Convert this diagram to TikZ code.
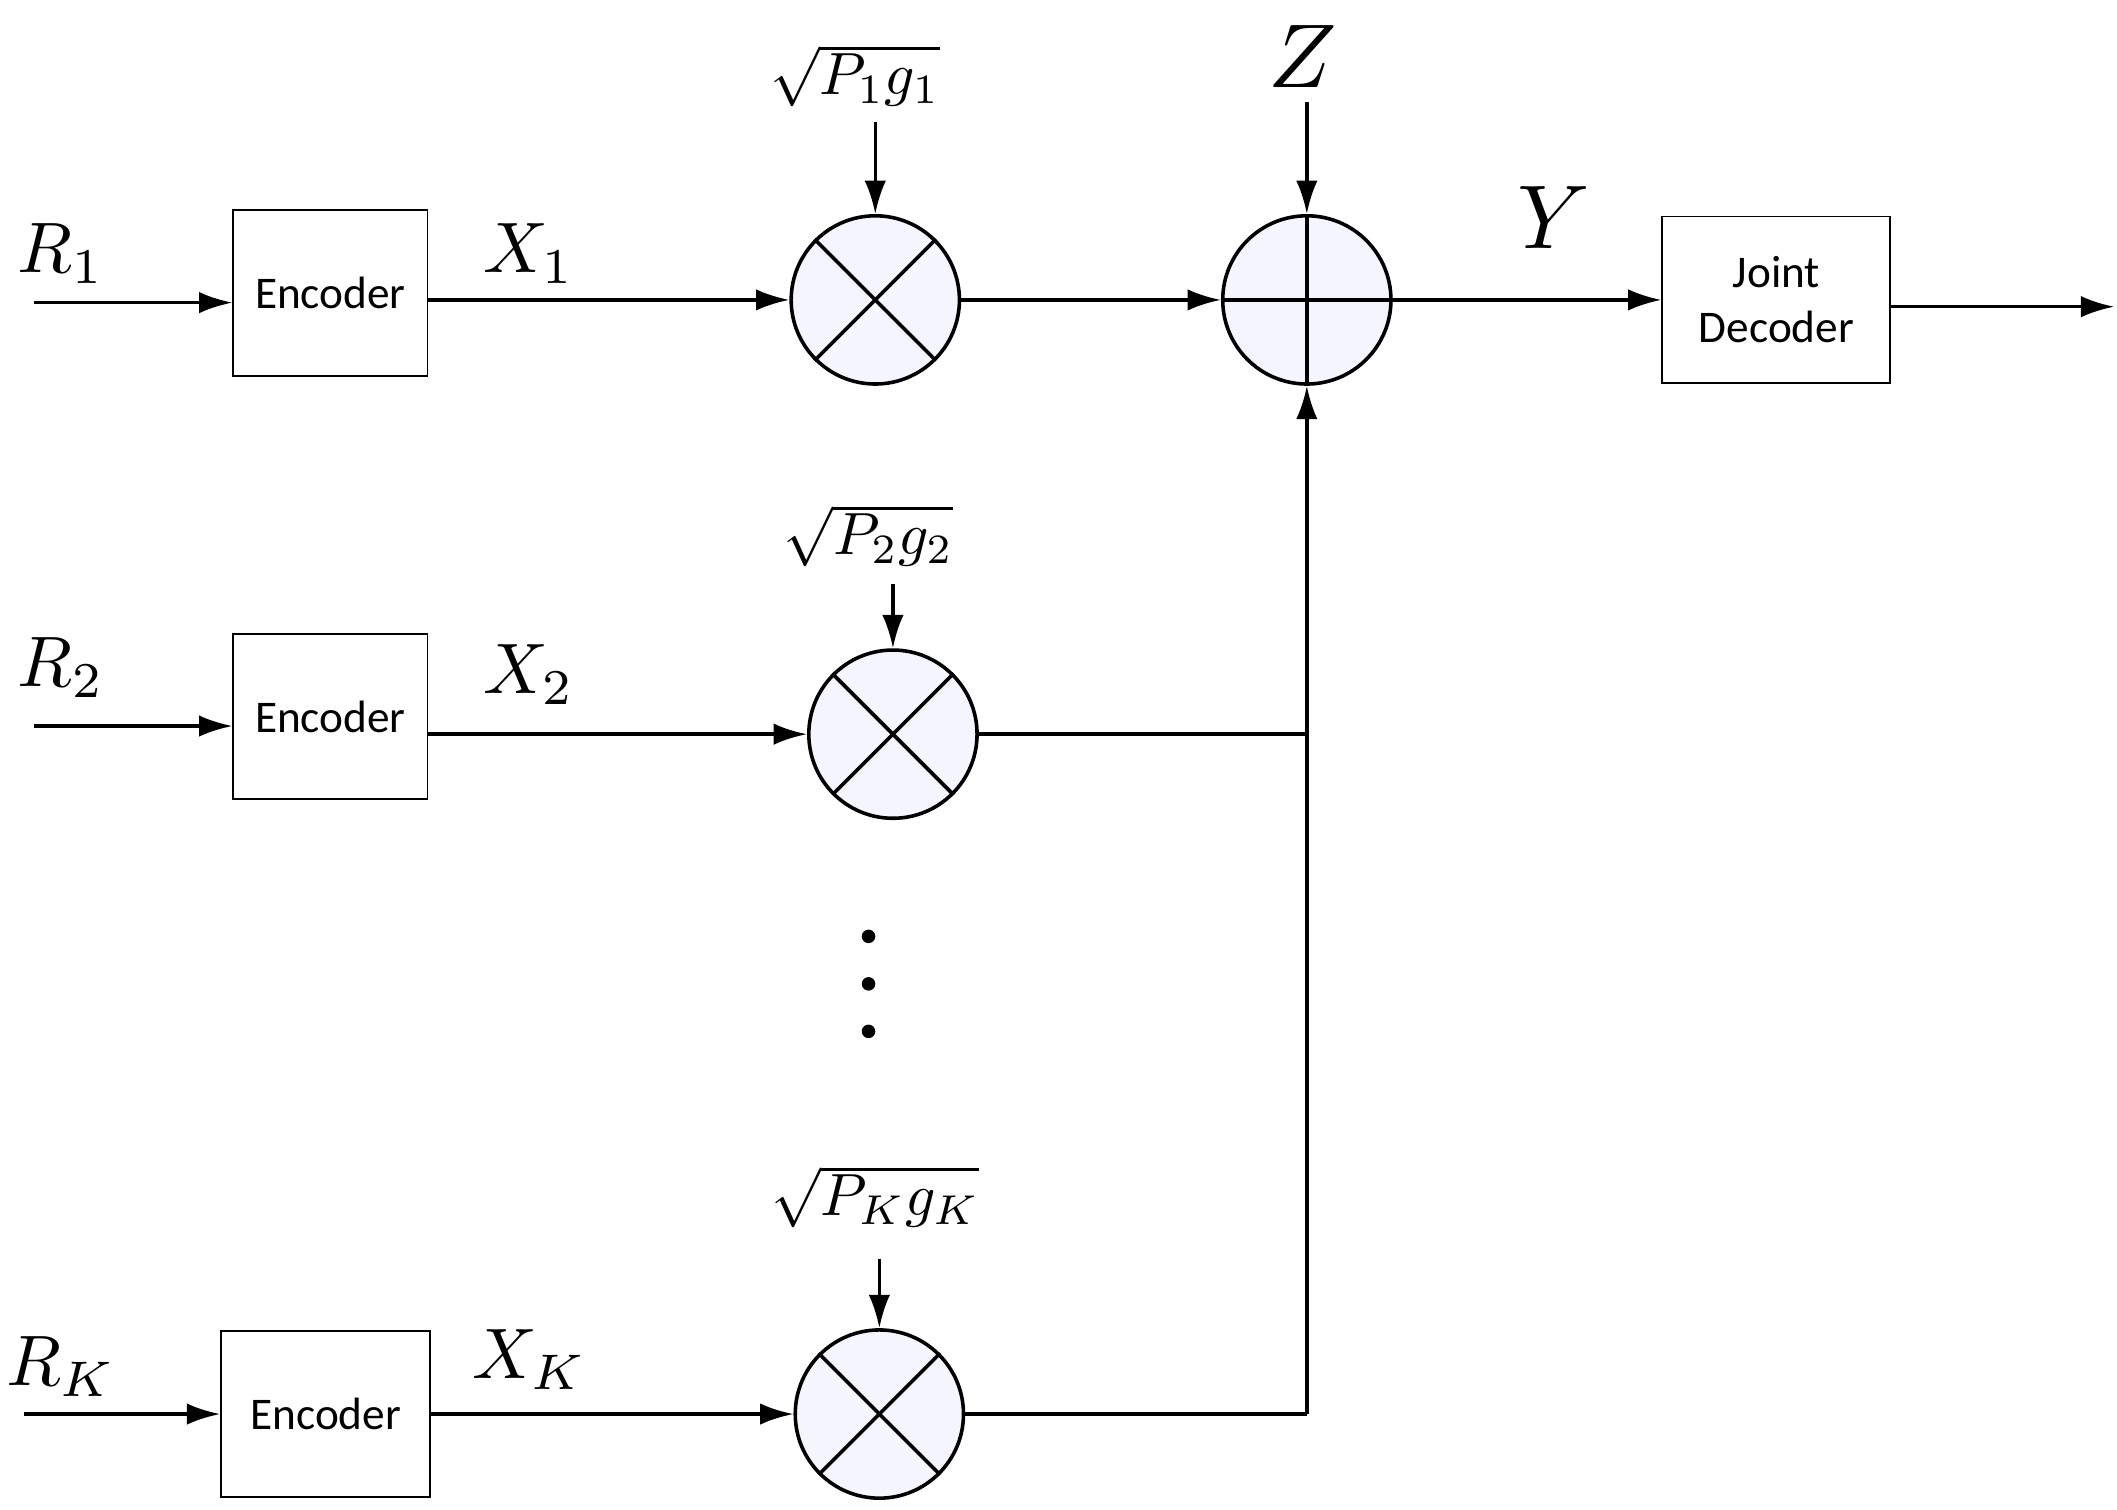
\documentclass[tikz,border=0pt]{standalone}
\usepackage{graphicx}
\usepackage{fontspec}
\setmainfont{Carlito}
\usetikzlibrary{arrows.meta}
\newcommand{\vr}[2]{\scalebox{3}{\normalsize$#1_{#2}$}}
\newcommand{\sq}[2]{\scalebox{2.5}{\normalsize$\sqrt{P_{#1}g_{#2}}$}}
\newcommand{\bg}[1]{\scalebox{3.8}{\normalsize$#1$}}
\begin{document}
\begin{tikzpicture}[x=0.02cm,y=-0.02cm,
 box/.style={draw,line width=0.8pt,inner sep=0,font=\fontsize{19}{23}\selectfont,align=center},
 circ/.style={draw,line width=1.5pt,circle,minimum size=2.48cm,inner sep=0,fill=blue!4},
 ar/.style={line width=1.5pt,-{Latex[length=14pt,width=9pt]}},
 ln/.style={line width=1.5pt}]
\useasboundingbox (0,0) rectangle (1560,1112);
% encoders
\node[box,minimum width=2.86cm,minimum height=2.44cm] (e1) at (243.5,216) {Encoder};
\node[box,minimum width=2.86cm,minimum height=2.44cm] (e2) at (243.5,528) {Encoder};
\node[box,minimum width=3.08cm,minimum height=2.44cm] (ek) at (240,1042) {Encoder};
\coordinate (i1) at (25,223); \coordinate (i2) at (25,535); \coordinate (ik) at (18,1042);
\draw[ar] (i1) -- (i1-|e1.west);
\draw[ar] (i2) -- (i2-|e2.west);
\draw[ar] (ik) -- (ik-|ek.west);
\node (r1) at (45,187) {\vr{R}{1}};
\node (r2) at (45,492) {\vr{R}{2}};
\node (rk) at (45,1007) {\vr{R}{K}};
% multipliers
\node[circ] (m1) at (645,221) {};
\node[circ] (m2) at (658,541) {};
\node[circ] (mk) at (648,1042) {};
\foreach \m in {m1,m2,mk}{
 \draw[ln] (\m.north west) -- (\m.south east);
 \draw[ln] (\m.north east) -- (\m.south west);}
\draw[ar] (e1.east|-m1) -- (m1.west);
\draw[ar] (e2.east|-m2) -- (m2.west);
\draw[ar] (ek.east|-mk) -- (mk.west);
\node (x1) at (390,187) {\vr{X}{1}};
\node (x2) at (390,497) {\vr{X}{2}};
\node (xk) at (390,1002) {\vr{X}{K}};
\node[inner sep=0] (s1) at (630,56) {\sq{1}{1}};
\node[inner sep=0] (s2) at (640,395) {\sq{2}{2}};
\node[inner sep=0] (sk) at (645,882) {\sq{K}{K}};
\coordinate (t1) at (645,90); \coordinate (t2) at (658,430); \coordinate (tk) at (648,928);
\draw[ar] (t1) -- (m1.north);
\draw[ar] (t2) -- (m2.north);
\draw[ar] (tk) -- (mk.north);
% adder
\node[circ] (ad) at (963,221) {};
\draw[ln] (ad.north) -- (ad.south);
\draw[ln] (ad.west) -- (ad.east);
\draw[ar] (m1.east) -- (ad.west);
\node[inner sep=0] (z) at (960,42) {\bg{Z}};
\coordinate (tz) at (963,75);
\draw[ar] (tz) -- (ad.north);
\coordinate (j2) at (963,541); \coordinate (jk) at (963,1042);
\draw[ln] (m2.east) -- (j2);
\draw[ln] (mk.east) -- (jk);
\draw[ar] (jk) -- (ad.south);
\node (y) at (1145,160) {\bg{Y}};
\node[box,minimum width=3.36cm,minimum height=2.46cm] (jd) at (1309,221) {Joint\\Decoder};
\draw[ar] (ad.east) -- (jd.west);
\coordinate (o) at (1558,226);
\draw[ar] (jd.east|-o) -- (o);
\foreach \yy in {690,725,760} \fill (640,\yy) circle (5);
\end{tikzpicture}
\end{document}
